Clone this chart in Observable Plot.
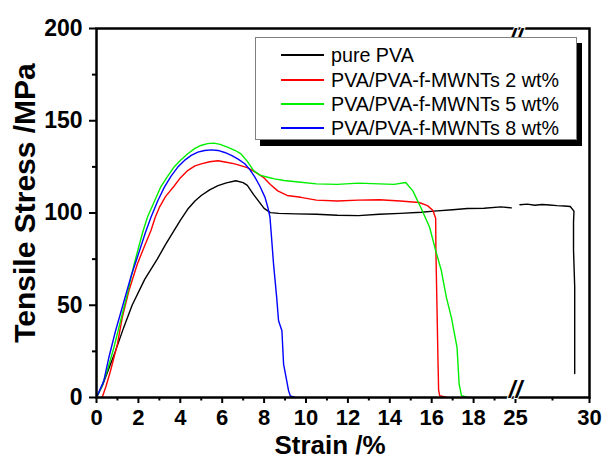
<!DOCTYPE html>
<html>
<head>
<meta charset="utf-8">
<script src="https://cdn.jsdelivr.net/npm/d3@7"></script>
<script src="https://cdn.jsdelivr.net/npm/@observablehq/plot@0.6"></script>
<style>
  body { margin: 0; background: #fff; }
  #wrap { position: relative; width: 608px; height: 459px; font-family: "Liberation Sans", Arial, sans-serif; }
  #legend { position: absolute; left: 255px; top: 37px; width: 322px; height: 103px; border: 1px solid #808080; background: #fff; box-shadow: 5px 6px 0 #000; box-sizing: border-box; }
  .row { position: absolute; left: 0; height: 22px; display: flex; align-items: center; font-size: 19.7px; color: #000; white-space: nowrap; }
  .sw { width: 43px; height: 0; border-top: 2px solid; margin-left: 25px; margin-right: 7px; }
</style>
</head>
<body>
<div id="wrap"></div>
<script>
// ---- data (strain %, stress MPa) ----
const seriesNames = ["pure PVA", "PVA/PVA-f-MWNTs 2 wt%", "PVA/PVA-f-MWNTs 5 wt%", "PVA/PVA-f-MWNTs 8 wt%"];
const seriesColors = ["#000000", "#ff0000", "#00ee00", "#0000ff"];

const pureLeft = [[0,0],[0.3,7],[0.6,16],[0.9,25],[1.3,38],[1.7,50],[2.3,64],[2.9,75],[3.3,83],[3.7,90.5],[4.0,96],[4.35,102],[4.7,106.5],[5.0,109.5],[5.4,112.5],[5.8,114.8],[6.2,116.3],[6.65,117.5],[7.0,116.5],[7.2,115],[7.5,110],[7.7,107],[8.0,102.5],[8.3,100.2],[8.7,99.8],[9.5,99.5],[10.5,99.3],[11.5,98.8],[12.5,98.6],[13.5,99.3],[14.5,99.8],[15.5,100.4],[16.1,101],[17.0,101.8],[17.7,102.4],[18.5,102.6],[19.3,103.3],[19.8,102.8]];
const pureRight = [[25.3,104.5],[25.8,104.8],[26.3,104.2],[26.8,104.6],[27.3,104.3],[27.8,104.0],[28.3,103.8],[28.7,103.5],[28.95,101],[28.92,95],[28.92,80],[29.0,60],[29.0,13]];
const pva2 = [[0.27,0],[0.45,6],[0.67,14.5],[1.0,29],[1.23,43.4],[1.55,58],[1.95,72.4],[2.27,81.4],[2.6,90.5],[2.8,97.6],[3.0,103],[3.3,109],[3.7,114.5],[4.0,119],[4.35,123],[4.7,125.5],[5.0,126.6],[5.4,127.8],[5.8,128.3],[6.2,127.5],[6.6,126.6],[7.2,124.6],[7.6,122],[8.0,119],[8.3,115.5],[8.65,112],[9.1,109.5],[9.75,108.5],[10.5,107],[11.5,106.5],[12.5,107],[13.5,107.2],[14.5,106.5],[15.4,105.7],[15.8,104],[16.06,101.3],[16.19,97],[16.2,80],[16.25,50],[16.3,20],[16.33,4],[16.38,1],[16.73,0]];
const pva5 = [[0,0],[0.25,6],[0.51,14.5],[0.83,27],[1.15,41.6],[1.47,56],[1.79,72],[2.19,89],[2.43,97.7],[2.75,106],[3.06,114],[3.4,120],[3.7,124.9],[4.0,128.5],[4.34,132],[4.7,135],[4.98,136.6],[5.3,137.6],[5.6,137.9],[5.9,137.2],[6.25,135.7],[6.6,134],[6.9,132],[7.2,128],[7.5,123],[7.8,120.5],[8.17,119.4],[8.5,118.5],[8.95,117.6],[9.76,116.7],[10.5,115.8],[11.5,115.5],[12.5,116.2],[13.5,115.8],[14.2,115.5],[14.76,116.5],[15.1,112],[15.48,103],[15.9,92.3],[16.19,79.6],[16.46,68.8],[16.7,54.3],[16.94,43.4],[17.21,27],[17.31,7.2],[17.42,1],[17.74,0]];
const pva8 = [[0,0],[0.35,9],[0.59,21.7],[0.91,36.2],[1.23,48.9],[1.63,65],[1.95,76],[2.34,89.6],[2.6,97.7],[2.92,106.5],[3.24,114],[3.56,120],[3.88,124.9],[4.2,128.5],[4.52,131.2],[4.84,133],[5.16,133.9],[5.48,134.2],[5.8,133.9],[6.12,132.8],[6.44,131.2],[6.76,129.2],[7.08,126.7],[7.32,123.5],[7.56,119.4],[7.8,114.5],[8.04,108.6],[8.18,103],[8.28,97.7],[8.33,90.5],[8.45,72.4],[8.6,54.3],[8.69,41.6],[8.85,36.2],[8.93,18.1],[9.17,3.6],[9.25,0.9],[9.49,0]];

const xMajorTicks = [0,2,4,6,8,10,12,14,16,18,25,30];
const xMinorTicks = [1,3,5,7,9,11,13,15,17,19,27.5];
const yMajorTicks = [0,50,100,150,200];
const yMinorTicks = [25,75,125,175];
const breakAt = [22.5];
const xLabel = "Strain /%";
const yLabel = "Tensile Stress /MPa";

const font = "Liberation Sans, Arial, sans-serif";
const lineOpts = (c) => ({x: d => d[0], y: d => d[1], stroke: c, strokeWidth: 1.4, curve: "linear"});

const chart = Plot.plot({
  width: 608,
  height: 459,
  marginLeft: 96,
  marginRight: 19,
  marginTop: 28,
  marginBottom: 62,
  style: {fontFamily: font, background: "#fff", color: "#000", overflow: "visible"},
  x: {type: "linear", domain: [0, 20, 25, 30], range: [96, 515, 515, 589], axis: null},
  y: {domain: [0, 200], axis: null},
  marks: [
    Plot.line(pureLeft, lineOpts(seriesColors[0])),
    Plot.line(pureRight, lineOpts(seriesColors[0])),
    Plot.line(pva2, lineOpts(seriesColors[1])),
    Plot.line(pva5, lineOpts(seriesColors[2])),
    Plot.line(pva8, lineOpts(seriesColors[3])),
    Plot.frame({stroke: "#000", strokeWidth: 2.5}),
    Plot.axisY({ticks: yMajorTicks, tickSize: 7, tickPadding: 7, fontSize: 23, fontWeight: "bold", strokeWidth: 2, label: null}),
    Plot.axisY({ticks: yMinorTicks, tickSize: 4, tickFormat: () => "", strokeWidth: 2, label: null}),
    Plot.axisX({ticks: xMajorTicks, tickSize: 6, tickPadding: 6, fontSize: 22, fontWeight: "bold", strokeWidth: 2, label: null}),
    Plot.axisX({ticks: xMinorTicks, tickSize: 3.5, tickFormat: () => "", strokeWidth: 2, label: null}),
    Plot.text(breakAt, {x: d => d, frameAnchor: "top", text: () => "//", fontSize: 24, fontWeight: "bold", fontStyle: "italic", fill: "#000", stroke: "#fff", strokeWidth: 2, paintOrder: "stroke"}),
    Plot.text(breakAt, {x: d => d, frameAnchor: "bottom", text: () => "//", fontSize: 24, fontWeight: "bold", fontStyle: "italic", fill: "#000", stroke: "#fff", strokeWidth: 2, paintOrder: "stroke"}),
    Plot.text([yLabel], {frameAnchor: "left", text: d => d, textAnchor: "middle", lineAnchor: "middle", rotate: -90, dx: -71, dy: -10, fontSize: 30, fontWeight: "bold", fill: "#000"}),
    Plot.text([xLabel], {frameAnchor: "bottom", text: d => d, textAnchor: "middle", lineAnchor: "bottom", dx: -13, dy: 56, fontSize: 26, fontWeight: "bold", fill: "#000"})
  ]
});

const wrap = document.getElementById("wrap");
wrap.appendChild(chart);

const legend = document.createElement("div");
legend.id = "legend";
const rowTops = [6, 31, 55, 79];
seriesNames.forEach((name, i) => {
  const row = document.createElement("div");
  row.className = "row";
  row.style.top = rowTops[i] + "px";
  const sw = document.createElement("div");
  sw.className = "sw";
  sw.style.borderTopColor = seriesColors[i];
  const label = document.createElement("span");
  label.textContent = name;
  row.appendChild(sw);
  row.appendChild(label);
  legend.appendChild(row);
});
wrap.appendChild(legend);
</script>
</body>
</html>
